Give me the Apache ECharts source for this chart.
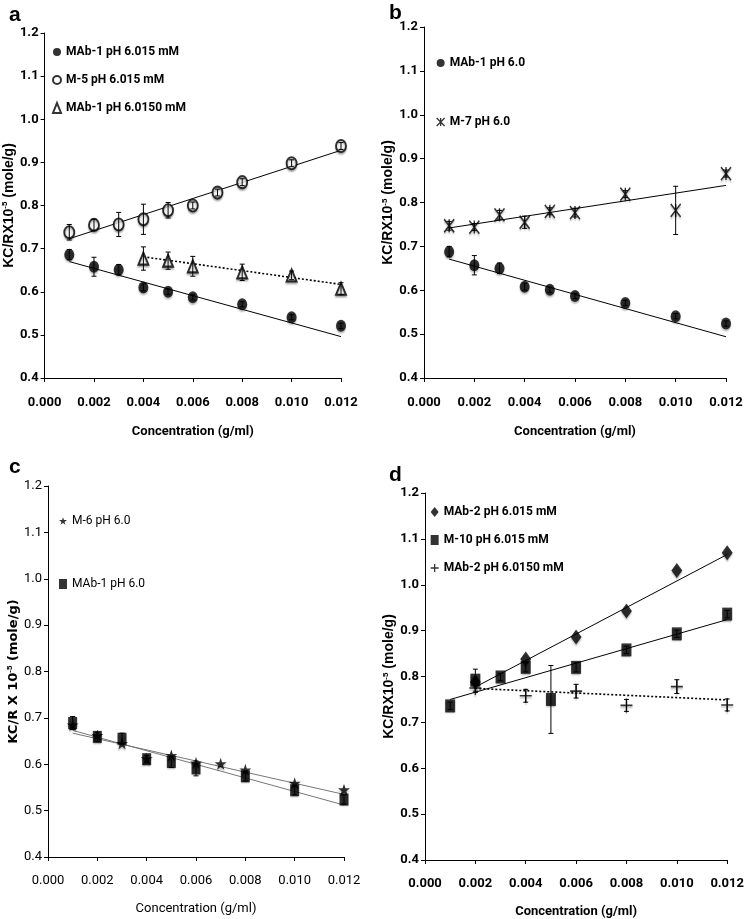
<!DOCTYPE html>
<html><head><meta charset="utf-8">
<script src="https://cdn.jsdelivr.net/npm/echarts@6/dist/echarts.min.js"></script>
<style>html,body{margin:0;padding:0;background:#fff}#c{width:747px;height:919px}</style>
</head><body><div id="c"></div>
<script>
// ---------- Tick labels ----------
const xTicks = ['0.000','0.002','0.004','0.006','0.008','0.010','0.012'];
const yTicks = ['0.4','0.5','0.6','0.7','0.8','0.9','1.0','1.1','1.2'];

// ---------- Panel a ----------
const aMab1X = [0.001,0.002,0.003,0.004,0.005,0.006,0.008,0.010,0.012];
const aMab1Y = [0.686,0.658,0.651,0.610,0.600,0.587,0.571,0.541,0.521];
const aMab1E = [0.012,0.022,0.012,0.008,0.006,0.006,0.006,0.006,0.006];
const aMab1Fit = [[0.001,0.670],[0.012,0.496]];
const aM5X = [0.001,0.002,0.003,0.004,0.005,0.006,0.007,0.008,0.010,0.012];
const aM5Y = [0.738,0.755,0.756,0.768,0.789,0.800,0.830,0.854,0.898,0.938];
const aM5E = [0.018,0.013,0.028,0.035,0.018,0.008,0.008,0.008,0.008,0.008];
const aM5Fit = [[0.001,0.723],[0.012,0.928]];
const aTriX = [0.004,0.005,0.006,0.008,0.010,0.012];
const aTriY = [0.677,0.672,0.659,0.645,0.638,0.607];
const aTriE = [0.027,0.020,0.023,0.019,0.010,0.014];
const aTriFit = [[0.004,0.681],[0.012,0.617]];

// ---------- Panel b ----------
const bMab1X = [0.001,0.002,0.003,0.004,0.005,0.006,0.008,0.010,0.012];
const bMab1Y = [0.688,0.657,0.650,0.608,0.601,0.587,0.571,0.541,0.524];
const bMab1E = [0.012,0.022,0.012,0.008,0.006,0.006,0.006,0.006,0.006];
const bMab1Fit = [[0.001,0.671],[0.012,0.494]];
const bM7X = [0.001,0.002,0.003,0.004,0.005,0.006,0.008,0.010,0.012];
const bM7Y = [0.747,0.744,0.772,0.755,0.780,0.777,0.819,0.782,0.866];
const bM7E = [0.010,0.008,0.010,0.014,0.008,0.010,0.008,0.055,0.008];
const bM7Fit = [[0.001,0.742],[0.012,0.839]];

// ---------- Panel c ----------
const cM6X = [0.001,0.002,0.003,0.004,0.005,0.006,0.007,0.008,0.010,0.012];
const cM6Y = [0.685,0.662,0.645,0.612,0.619,0.603,0.601,0.588,0.559,0.545];
const cM6Fit = [[0.001,0.667],[0.012,0.535]];
const cMab1X = [0.001,0.002,0.003,0.004,0.005,0.006,0.008,0.010,0.012];
const cMab1Y = [0.689,0.659,0.655,0.611,0.605,0.591,0.574,0.544,0.524];
const cMab1E = [0.014,0.010,0.012,0.008,0.012,0.016,0.010,0.010,0.010];
const cMab1Fit = [[0.001,0.673],[0.012,0.512]];

// ---------- Panel d ----------
const dMab2X = [0.002,0.004,0.006,0.008,0.010,0.012];
const dMab2Y = [0.788,0.838,0.886,0.943,1.031,1.070];
const dMab2Fit = [[0.002,0.777],[0.012,1.066]];
const dM10X = [0.001,0.002,0.003,0.004,0.005,0.006,0.008,0.010,0.012];
const dM10Y = [0.736,0.792,0.799,0.820,0.750,0.820,0.858,0.893,0.936];
const dM10E = [0.008,0.024,0.008,0.010,0.074,0.010,0.008,0.008,0.008];
const dM10Fit = [[0.001,0.750],[0.012,0.924]];
const dPlusX = [0.002,0.004,0.006,0.008,0.010,0.012];
const dPlusY = [0.775,0.758,0.768,0.737,0.778,0.738];
const dPlusE = [0.010,0.014,0.015,0.013,0.015,0.013];
const dPlusFit = [[0.002,0.774],[0.012,0.749]];

// ---------- Symbols ----------
const SYM_M7 = 'path://M-1,-1 L1,1 M1,-1 L-1,1 M0,-1 L0,1';
const SYM_STAR = 'path://M0,-1 L0.2245,-0.309 L0.951,-0.309 L0.363,0.118 L0.588,0.809 L0,0.382 L-0.588,0.809 L-0.363,0.118 L-0.951,-0.309 L-0.2245,-0.309 Z';
const SYM_PLUS = 'path://M0,-1 L0,1 M-1,0 L1,0';

const FONT = "'Liberation Sans Narrow','Roboto',sans-serif";
const shadow = {shadowBlur:1.5, shadowColor:'rgba(0,0,0,0.3)', shadowOffsetY:2};

function pts(xs, ys){ return xs.map((x,i)=>[x, ys[i]]); }
function scatter(name, xs, ys, g, symbol, size, style){
  return {type:'scatter', name:name, xAxisIndex:g, yAxisIndex:g, symbol:symbol, symbolSize:size,
    data:pts(xs,ys), itemStyle:Object.assign({color:'#000'}, shadow, style||{}), z:4, silent:true};
}
function fit(p, g, dashed, color){
  return {type:'line', xAxisIndex:g, yAxisIndex:g, data:p, symbol:'none', silent:true, z:3,
    lineStyle:{color:color||'#000', width: dashed?1.6:1, type: dashed?[2,2]:'solid'}};
}
function errs(xs, ys, es, g){
  return {type:'custom', xAxisIndex:g, yAxisIndex:g, silent:true, z:5,
    data: xs.map((x,i)=>[x, ys[i]-es[i], ys[i]+es[i]]),
    encode:{x:0, y:[1,2]},
    renderItem:function(params, api){
      const x = api.value(0), lo = api.value(1), hi = api.value(2);
      const p1 = api.coord([x, lo]), p2 = api.coord([x, hi]);
      const s = {stroke:'#000', lineWidth:1};
      return {type:'group', children:[
        {type:'line', shape:{x1:p1[0], y1:p1[1], x2:p2[0], y2:p2[1]}, style:s},
        {type:'line', shape:{x1:p1[0]-2.5, y1:p1[1], x2:p1[0]+2.5, y2:p1[1]}, style:s},
        {type:'line', shape:{x1:p2[0]-2.5, y1:p2[1], x2:p2[0]+2.5, y2:p2[1]}, style:s}
      ]};
    }};
}

const grids = [
  {left:44, top:33, width:297, height:345},
  {left:424, top:27, width:302, height:351},
  {left:48, top:486, width:296, height:371},
  {left:425, top:493, width:306, height:373}
];
const boldP = [true, true, false, true];
const yNames = ['KC/RX10{s|-5} (mole/g)','KC/RX10{s|-5} (mole/g)','KC/R X 10{s|-5} (mole/g)','KC/RX10{s|-5} (mole/g)'];
const yGaps = [22, 21, 23, 20];
const xLabelMargin = [18, 18, 17, 17];
const xNameGap = [47, 47, 45, 45];

const xAxes = grids.map((g,i)=>({
  type:'value', gridIndex:i, min:0, max:0.012, interval:0.002,
  name:'Concentration (g/ml)', nameLocation:'middle', nameGap:xNameGap[i],
  nameTextStyle:{fontFamily:FONT, fontSize:13, fontWeight: boldP[i]?'bold':'normal', color:'#000'},
  axisLine:{lineStyle:{color:'#000', width:1}},
  axisTick:{show:true, inside:false, length:4, lineStyle:{color:'#000'}},
  axisLabel:{margin:xLabelMargin[i], fontFamily:FONT, fontSize:13, fontWeight: boldP[i]?'bold':'normal', color:'#000',
    formatter:(v)=>xTicks[Math.round(v/0.002)]},
  splitLine:{show:false}
}));
const yAxes = grids.map((g,i)=>({
  type:'value', gridIndex:i, min:0.4, max:1.2, interval:0.1,
  name:yNames[i], nameLocation:'middle', nameGap:yGaps[i],
  nameTextStyle:{fontFamily: i===2 ? "'DejaVu Sans',sans-serif" : "'Liberation Sans',Arial,sans-serif",
    fontSize: i===2 ? 13 : 14, fontWeight:'bold', color:'#000',
    rich:{s:{fontSize:8, fontWeight:'bold', padding:[0,0,8,0], fontFamily:"'Liberation Sans',Arial,sans-serif"}}},
  axisLine:{show:true, lineStyle:{color:'#000', width:1}},
  axisTick:{show:true, inside:false, length:4, lineStyle:{color:'#000'}},
  axisLabel:{margin:6, fontFamily:FONT, fontSize:13, fontWeight: boldP[i]?'bold':'normal', color:'#000',
    formatter:(v)=>yTicks[Math.round((v-0.4)/0.1)]},
  splitLine:{show:false}
}));

const series = [
  // a
  fit(aMab1Fit,0,false), fit(aM5Fit,0,false), fit(aTriFit,0,true),
  scatter('MAb-1 pH 6.015 mM', aMab1X, aMab1Y, 0, 'circle', [10,12]),
  scatter('M-5 pH 6.015 mM', aM5X, aM5Y, 0, 'emptyCircle', [10,12], {borderColor:'#000', borderWidth:1.2}),
  scatter('MAb-1 pH 6.0150 mM', aTriX, aTriY, 0, 'emptyTriangle', [10,12], {borderColor:'#000', borderWidth:1.2}),
  errs(aMab1X,aMab1Y,aMab1E,0), errs(aM5X,aM5Y,aM5E,0), errs(aTriX,aTriY,aTriE,0),
  // b
  fit(bMab1Fit,1,false), fit(bM7Fit,1,false),
  scatter('MAb-1 pH 6.0', bMab1X, bMab1Y, 1, 'circle', [10,12]),
  scatter('M-7 pH 6.0', bM7X, bM7Y, 1, SYM_M7, [10,13], {borderColor:'#000', borderWidth:1.6}),
  errs(bMab1X,bMab1Y,bMab1E,1), errs(bM7X,bM7Y,bM7E,1),
  // c
  fit(cM6Fit,2,false,'#777'), fit(cMab1Fit,2,false,'#777'),
  scatter('M-6 pH 6.0', cM6X, cM6Y, 2, SYM_STAR, [12,12]),
  scatter('MAb-1 pH 6.0 ', cMab1X, cMab1Y, 2, 'rect', [9,12]),
  errs(cMab1X,cMab1Y,cMab1E,2),
  // d
  fit(dMab2Fit,3,false), fit(dM10Fit,3,false), fit(dPlusFit,3,true),
  scatter('MAb-2 pH 6.015 mM', dMab2X, dMab2Y, 3, 'diamond', [11,15]),
  scatter('M-10 pH 6.015 mM', dM10X, dM10Y, 3, 'rect', [10,13]),
  scatter('MAb-2 pH 6.0150 mM', dPlusX, dPlusY, 3, SYM_PLUS, [12,14], {borderColor:'#000', borderWidth:1.5}),
  errs(dM10X,dM10Y,dM10E,3), errs(dPlusX,dPlusY,dPlusE,3)
];

function legend(left, top, gap, items, bold){
  return {orient:'vertical', left:left, top:top, itemGap:gap, itemWidth:8, itemHeight:10,
    selectedMode:false, textStyle:{fontFamily:FONT, fontSize:12, fontWeight: bold?'bold':'normal', color:'#000'},
    data:items};
}
const legends = [
  legend(47, 41, 16, [
    {name:'MAb-1 pH 6.015 mM', icon:'circle', itemStyle:{color:'#000'}},
    {name:'M-5 pH 6.015 mM', icon:'emptyCircle', itemStyle:{color:'#000', borderColor:'#000', borderWidth:1.1}},
    {name:'MAb-1 pH 6.0150 mM', icon:'emptyTriangle', itemStyle:{color:'#000', borderColor:'#000', borderWidth:1.1}}
  ], true),
  legend(431, 52, 47, [
    {name:'MAb-1 pH 6.0', icon:'circle', itemStyle:{color:'#000'}},
    {name:'M-7 pH 6.0', icon:SYM_M7, itemStyle:{color:'#000', borderColor:'#000', borderWidth:1.3}}
  ], true),
  legend(54, 510, 51, [
    {name:'M-6 pH 6.0', icon:SYM_STAR, itemStyle:{color:'#000'}},
    {name:'MAb-1 pH 6.0 ', icon:'rect', itemStyle:{color:'#000'}}
  ], false),
  legend(425, 501, 16, [
    {name:'MAb-2 pH 6.015 mM', icon:'diamond', itemStyle:{color:'#000'}},
    {name:'M-10 pH 6.015 mM', icon:'rect', itemStyle:{color:'#000'}},
    {name:'MAb-2 pH 6.0150 mM', icon:SYM_PLUS, itemStyle:{color:'#000', borderColor:'#000', borderWidth:1.3}}
  ], true)
];

const titles = [
  {text:'a', left:4, top:0},
  {text:'b', left:384, top:-2},
  {text:'c', left:4, top:452},
  {text:'d', left:384, top:460}
].map(t=>Object.assign(t, {textStyle:{fontFamily:"'Liberation Sans',Arial,sans-serif", fontSize:21, fontWeight:'bold', color:'#000'}}));

const chart = echarts.init(document.getElementById('c'), null, {renderer:'canvas'});
chart.setOption({
  backgroundColor:'#fff', animation:false,
  title:titles, grid:grids, xAxis:xAxes, yAxis:yAxes, legend:legends, series:series
});
</script></body></html>
